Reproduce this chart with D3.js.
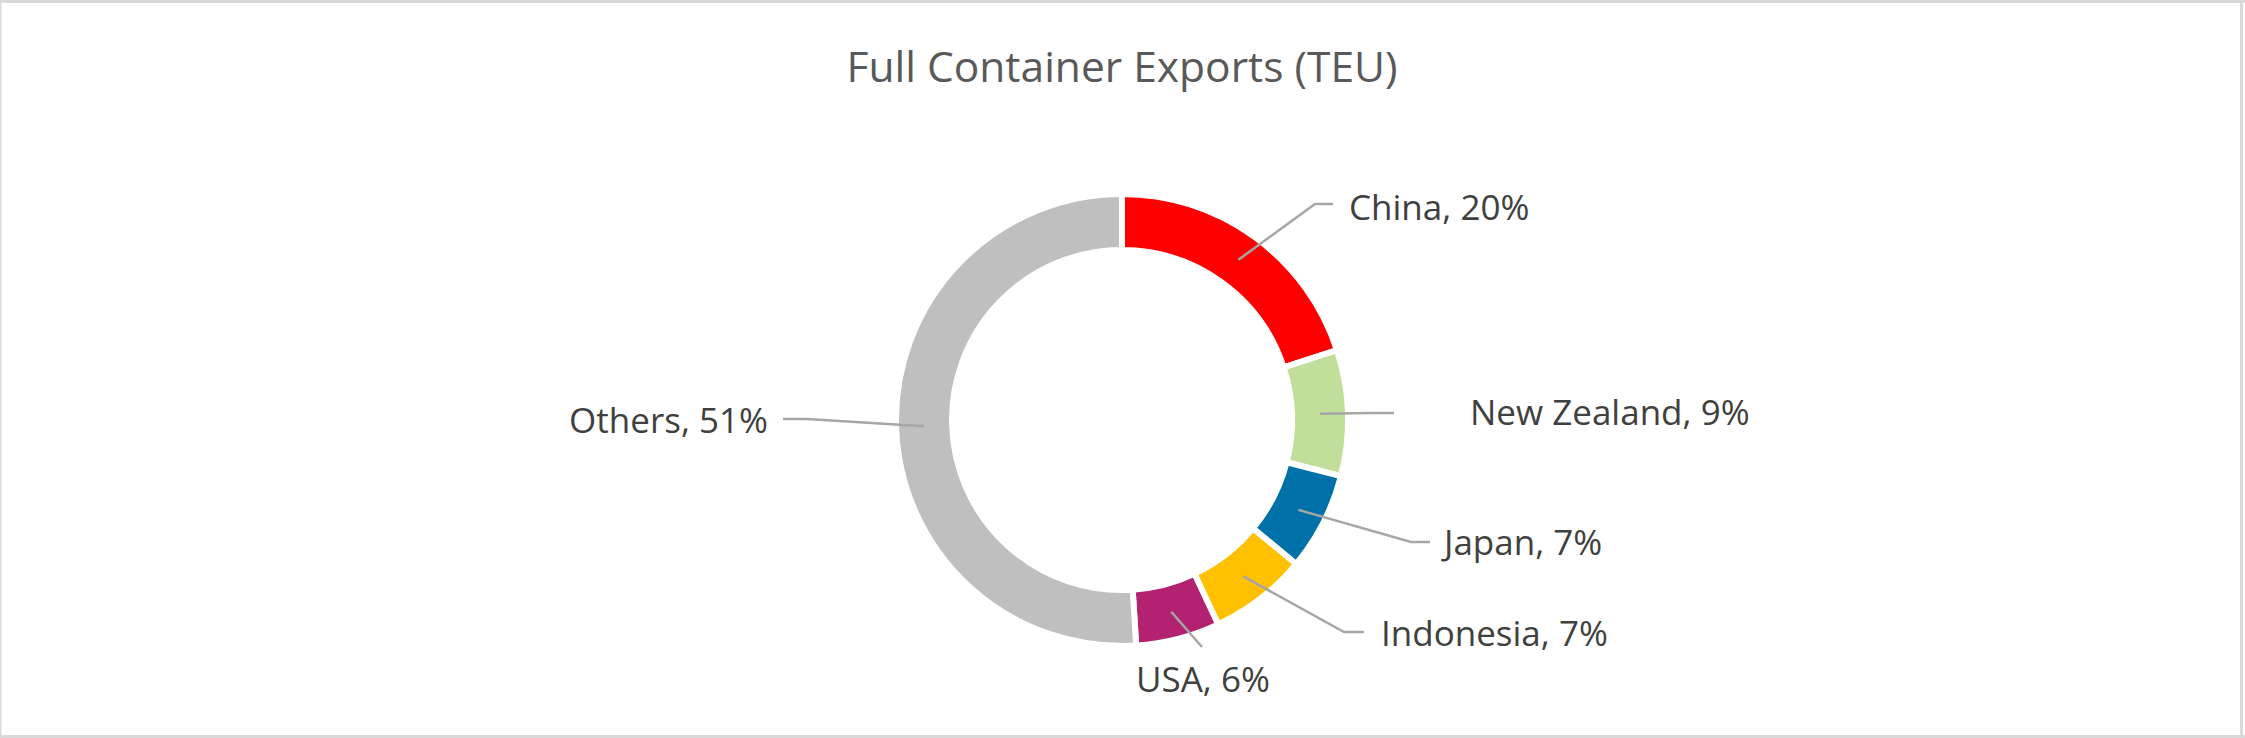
<!DOCTYPE html>
<html>
<head>
<meta charset="utf-8">
<script src="https://cdn.jsdelivr.net/npm/d3@7/dist/d3.min.js"></script>
<style>
  html, body { margin: 0; padding: 0; background: #fff; }
  svg { display: block; }
</style>
</head>
<body>
<script>
// ---- Data ----
const categories = ["China", "New Zealand", "Japan", "Indonesia", "USA", "Others"];
const shares = [20, 9, 7, 7, 6, 51];           // percent of full container exports (TEU)
const colors = ["#FF0000", "#C1DE9A", "#0071A8", "#FFC000", "#B22271", "#BFBFBF"];
const title = "Full Container Exports (TEU)";

// ---- Layout (annotation placement, relative to donut centre) ----
// label: text anchor point; elbow/end: leader-line bend and end
const labelLayout = [
  { anchor: "start",  lx: 227, ly: -200, elbow: [193, -216], end: [211, -216] },
  { anchor: "start",  lx: 348, ly: 5,    elbow: [249, -7],   end: [272, -7] },
  { anchor: "start",  lx: 322, ly: 135,  elbow: [289, 122],  end: [308, 122] },
  { anchor: "start",  lx: 259, ly: 226,  elbow: [222, 212],  end: [242, 212] },
  { anchor: "middle", lx: 81,  ly: 272,  elbow: null,        end: [80, 227] },
  { anchor: "end",    lx: -354, ly: 13,  elbow: [-315, -1],  end: [-339, -1] }
];

const W = 2245, H = 738;
const cx = 1122, cy = 420;
const rOuter = 226, rInner = 170, gap = 6;

const svg = d3.select("body").append("svg")
  .attr("width", W).attr("height", H)
  .style("font-family", "'Open Sans', 'Noto Sans', sans-serif");

svg.append("rect").attr("width", W).attr("height", H).attr("fill", "#fff");

// chart border
const border = "#D9D9D9";
svg.append("rect").attr("x", 0).attr("y", 0).attr("width", W).attr("height", 3).attr("fill", border);
svg.append("rect").attr("x", 0).attr("y", 0).attr("width", 1.5).attr("height", H).attr("fill", border);
svg.append("rect").attr("x", W - 5).attr("y", 0).attr("width", 3).attr("height", H).attr("fill", border);
svg.append("rect").attr("x", 0).attr("y", H - 3).attr("width", W).attr("height", 3).attr("fill", border);

// title
svg.append("text")
  .attr("x", cx).attr("y", 82)
  .attr("text-anchor", "middle")
  .attr("font-size", 42.5)
  .attr("fill", "#595959")
  .text(title);

const data = categories.map((c, i) => ({ name: c, value: shares[i], color: colors[i], layout: labelLayout[i] }));

const pie = d3.pie().sort(null).value(d => d.value).startAngle(0).endAngle(2 * Math.PI);
const arc = d3.arc().innerRadius(rInner).outerRadius(rOuter);
const midArc = d3.arc().innerRadius((rInner + rOuter) / 2).outerRadius((rInner + rOuter) / 2);

const g = svg.append("g").attr("transform", `translate(${cx},${cy})`);
const arcs = pie(data);

g.selectAll("path.slice").data(arcs).join("path")
  .attr("class", "slice")
  .attr("d", arc)
  .attr("fill", d => d.data.color)
  .attr("stroke", "#fff")
  .attr("stroke-width", gap)
  .attr("stroke-linejoin", "miter");

// leader lines
g.selectAll("polyline.leader").data(arcs).join("polyline")
  .attr("class", "leader")
  .attr("points", d => {
    const c = midArc.centroid(d);
    const L = d.data.layout;
    const pts = [c];
    if (L.elbow) pts.push(L.elbow);
    pts.push(L.end);
    return pts.map(p => p.join(",")).join(" ");
  })
  .attr("fill", "none")
  .attr("stroke", "#A6A6A6")
  .attr("stroke-width", 2.5);

// labels
g.selectAll("text.label").data(arcs).join("text")
  .attr("class", "label")
  .attr("x", d => d.data.layout.lx)
  .attr("y", d => d.data.layout.ly)
  .attr("text-anchor", d => d.data.layout.anchor)
  .attr("font-size", 35)
  .attr("fill", "#404040")
  .text(d => `${d.data.name}, ${d.data.value}%`);
</script>
</body>
</html>
